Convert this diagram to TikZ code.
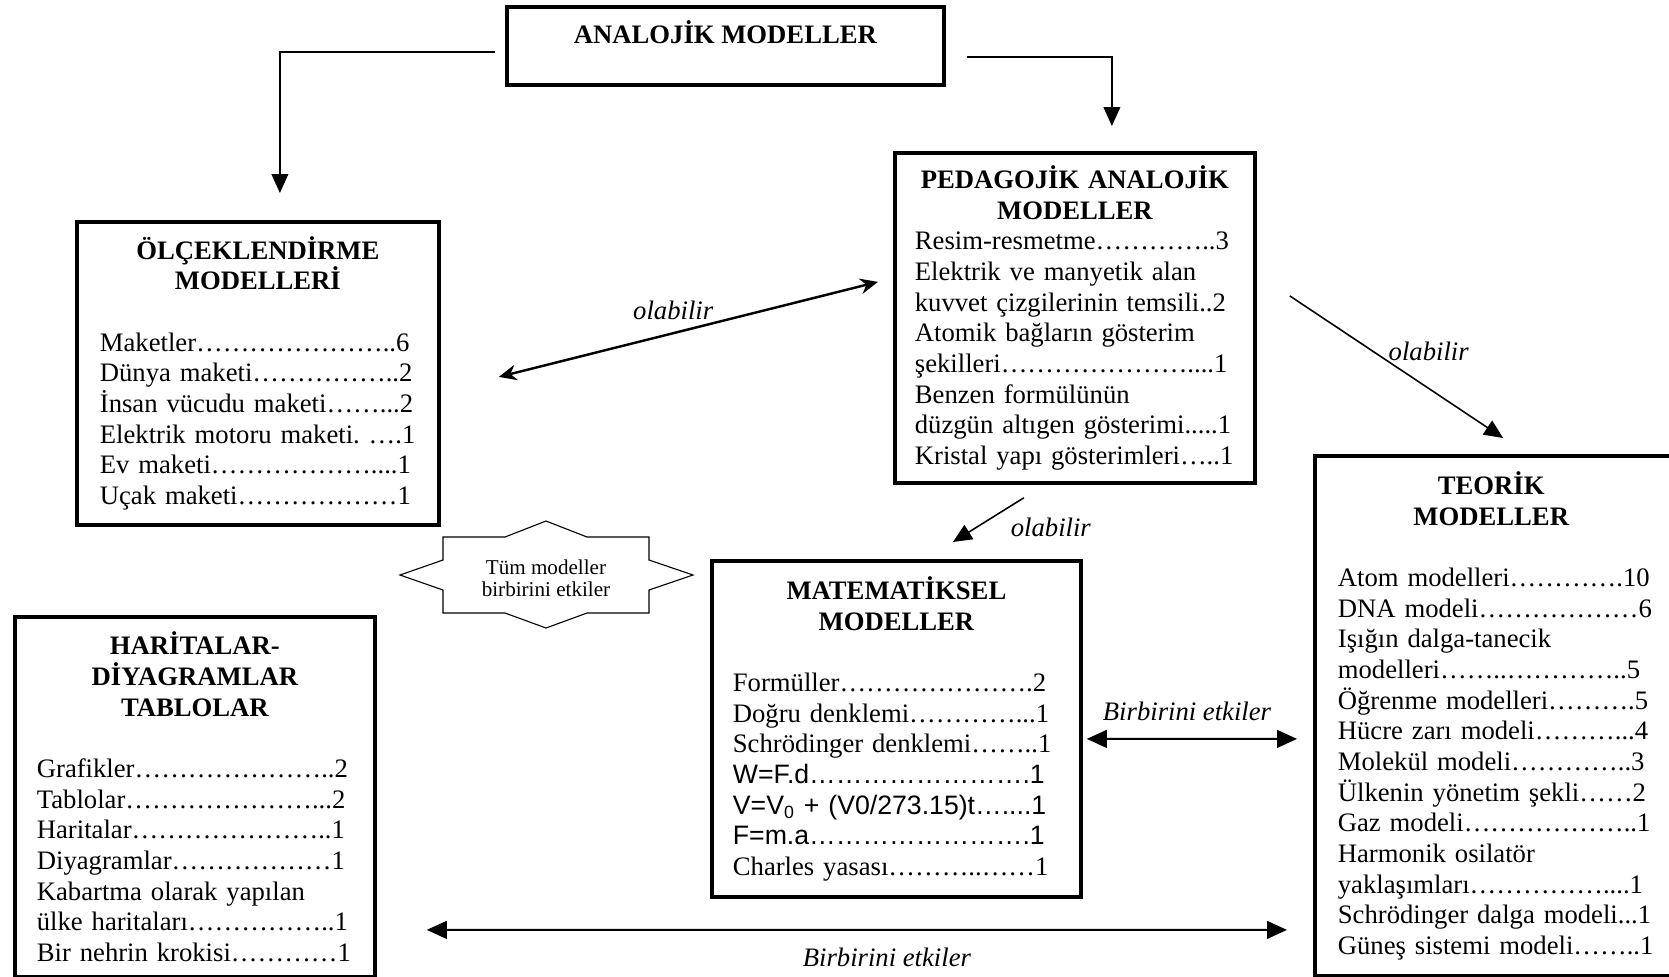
\documentclass[tikz,border=0pt]{standalone}
\usepackage{fontspec}
\setmainfont{Liberation Serif}
\newfontfamily\arial{Liberation Sans}
\usetikzlibrary{arrows.meta,calc}
\frenchspacing

\newcommand{\baslik}[1]{{\centering\bfseries #1\par}}
\newcommand{\nokta}[2]{\foreach\sayi in {1,...,#1}{…}\foreach\sayi in {0,...,#2}{\ifnum\sayi>0 .\fi}}

\begin{document}
\begin{tikzpicture}[x=0.45pt, y=-0.45pt, font=\fontsize{12}{13.8}\selectfont,
			kutu/.style={draw, line width=1.7pt, anchor=north west, inner ysep=0pt, execute at begin node=\raggedright},
			ok/.style={line width=0.7pt, -{Triangle[length=8.5pt,width=7.5pt]}},
			ciftok/.style={line width=0.9pt, {Triangle[length=9pt,width=8pt]}-{Triangle[length=9pt,width=8pt]}},
			etiket/.style={font=\fontsize{12}{13.8}\selectfont\itshape}]
			\useasboundingbox (0,0) rectangle (1669,976);
			\clip (0,0) rectangle (1669,976);
			\node[draw, line width=1.7pt, anchor=north west, inner ysep=0pt, minimum width=196.65pt, minimum height=35.1pt,
				text height=8pt, text depth=10pt, font=\fontsize{12}{13.8}\selectfont\bfseries] (ana) at (505,5) {ANALOJİK MODELLER};
			\node[kutu, text width=144pt, inner xsep=9pt, minimum height=148.5pt] (ped) at (893,151) {%
				\baslik{PEDAGOJİK ANALOJİK\\MODELLER}
				Resim-resmetme\nokta{4}{2}3\\
				Elektrik ve manyetik alan\\
				kuvvet çizgilerinin temsili..2\\
				Atomik bağların gösterim\\
				şekilleri\nokta{7}{4}1\\
				Benzen formülünün\\
				düzgün altıgen gösterimi.....1\\
				Kristal yapı gösterimleri\nokta{1}{2}1};
			\node[kutu, text width=142.2pt, inner xsep=10.35pt, minimum height=136.35pt] (olc) at (75,220) {%
				\baslik{ÖLÇEKLENDİRME\\MODELLERİ}\vspace{\baselineskip}
				Maketler\nokta{7}{2}6\\
				Dünya maketi\nokta{5}{2}2\\
				İnsan vücudu maketi\nokta{2}{3}2\\
				Elektrik motoru maketi. \nokta{1}{1}1\\
				Ev maketi\nokta{6}{4}1\\
				Uçak maketi\nokta{6}{0}1};
			\node[kutu, text width=147.15pt, inner xsep=9.45pt, minimum height=151.2pt] (mat) at (710,559) {%
				\baslik{MATEMATİKSEL\\MODELLER}\vspace{\baselineskip}
				Formüller\nokta{7}{1}2\\
				Doğru denklemi\nokta{4}{3}1\\
				Schrödinger denklemi\nokta{2}{2}1\\
				{\arial W=F.d\nokta{8}{1}1}\\
				{\arial V=V\textsubscript{0} + (V0/273.15)t\nokta{1}{4}1}\\
				{\arial F=m.a\nokta{8}{1}1}\\
				Charles yasası\nokta{3}{2}\nokta{2}{0}1};
			\node[kutu, text width=146pt, inner xsep=10.35pt, minimum height=234pt] (teo) at (1313,454) {%
				\baslik{\hspace*{-8pt}TEORİK\\\hspace*{-8pt}MODELLER}\vspace{\baselineskip}
				Atom modelleri\nokta{4}{1}10\\
				DNA modeli\nokta{6}{0}6\\
				Işığın dalga-tanecik\\
				modelleri\nokta{2}{2}\nokta{4}{2}5\\
				Öğrenme modelleri\nokta{3}{1}5\\
				Hücre zarı modeli\nokta{3}{3}4\\
				Molekül modeli\nokta{4}{2}3\\
				Ülkenin yönetim şekli\nokta{2}{0}2\\
				Gaz modeli\nokta{6}{2}1\\
				Harmonik osilatör\\
				yaklaşımları\nokta{5}{4}1\\
				Schrödinger dalga modeli...1\\
				Güneş sistemi modeli\nokta{2}{2}1};
			\node[kutu, text width=142.2pt, inner xsep=9.9pt, minimum height=162pt] (har) at (13,615) {%
				\baslik{HARİTALAR-\\DİYAGRAMLAR\\TABLOLAR}\vspace{\baselineskip}
				Grafikler\nokta{7}{2}2\\
				Tablolar\nokta{7}{3}2\\
				Haritalar\nokta{7}{2}1\\
				Diyagramlar\nokta{6}{0}1\\
				Kabartma olarak yapılan\\
				ülke haritaları\nokta{5}{2}1\\
				Bir nehrin krokisi\nokta{4}{0}1};
			\draw[line width=0.5pt] (400,575) -- (443,560) -- (443,537) -- (505,537) -- (546,521) -- (587,537)
				-- (649,537) -- (649,560) -- (693,575) -- (649,590) -- (649,613) -- (587,613) -- (546,628)
				-- (505,613) -- (443,613) -- (443,590) -- cycle;
			\node[align=center, font=\fontsize{9.5}{10}\selectfont] (tum) at (546,578) {Tüm modeller\\birbirini etkiler};
			\draw[ok] ($(ana.west)+(-10,6)$) -| ($(olc.north)+(22,-27)$);
			\draw[ok] ($(ana.east)+(21,11)$) -| ($(ped.north)+(37,-25)$);
			\draw[line width=1.1pt, {Stealth[length=8pt,width=7pt]}-{Stealth[length=8pt,width=7pt]}]
				($(olc.east)+(58,3.5)$) -- node[etiket, pos=0.46, yshift=10.4pt] {olabilir} ($(ped.west)+(-15,-36)$);
			\draw[ok] ($(ped.east)+(33,-22)$) -- node[etiket, pos=0.5, xshift=14.5pt, yshift=7.2pt] {olabilir} ($(teo.north)+(3,-16)$);
			\draw[ok] ($(ped.south)+(-51,13)$) -- node[etiket, pos=0.5, xshift=28.1pt, yshift=-3.2pt] {olabilir} ($(mat.north)+(56.5,-17)$);
			\draw[ciftok] ($(mat.east)+(4,10)$) -- node[etiket, xshift=-2.2pt, yshift=12.2pt] {Birbirini etkiler} ($(teo.west)+(-16,23)$);
			\draw[ciftok] ($(har.east)+(50,133)$) -- node[etiket, xshift=13.5pt, yshift=-12.2pt] {Birbirini etkiler} ($(teo.west)+(-26,214)$);
			\end{tikzpicture}
\end{document}
